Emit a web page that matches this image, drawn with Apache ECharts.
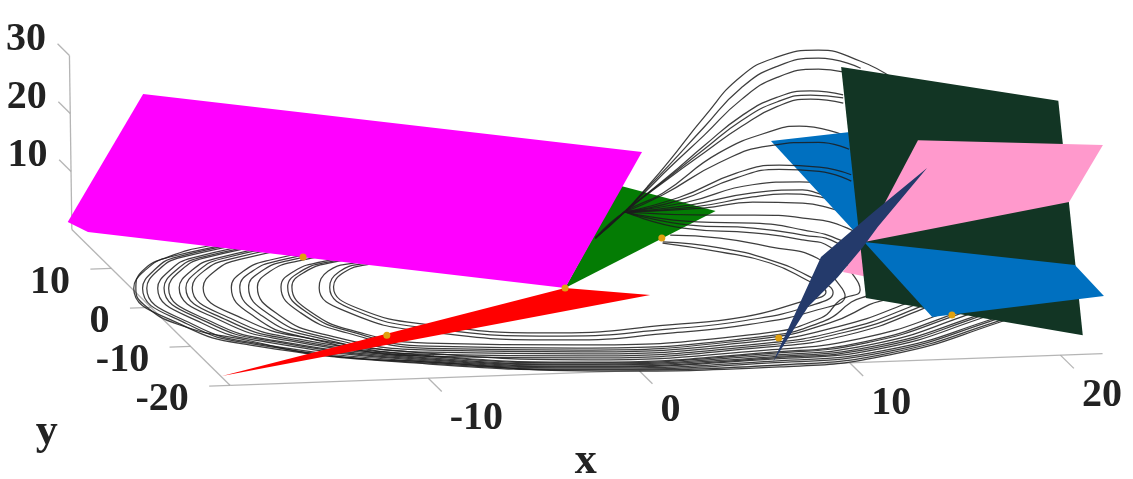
<!DOCTYPE html>
<html><head><meta charset="utf-8">
<style>html,body{margin:0;padding:0;background:#fff}#c{width:1133px;height:479px}</style>
<script src="https://cdn.jsdelivr.net/npm/echarts@6/dist/echarts.min.js"></script>
</head><body><div id="c"></div>
<script>
// ---- tick values (chart units) ----
const xTicks = [-10, 0, 10, 20];
const yTicks = [-20, -10, 0, 10];
const zTicks = [10, 20, 30];
const xRange = [-19.4, 22];
const yRange = [-20, 20];
const zRange = [0, 30];

// ---- equilibrium points [x,y,z] ----
const points = [[-10.1,11.1,0],[-9.9,-9,0],[0.45,1.06,0],[7.2,12.55,0],[7.9,-13.25,0],[16.9,-9.1,0]];

// ---- planes, corners [x,y,z] ----
const magentaPlane = [[-16.67,16,25.7],[3.99,0,23.7],[0.45,1.06,0],[-19.38,16,2.24],[-20.33,16,4.09]];
const greenPlane = [[5.2,12,9.6],[9.67,12,4.7],[0.45,1.06,0]];
const redPlane = [[-19.34,-17.6,0],[0.45,1.06,0],[4.02,-1.43,0]];
const darkPlane = [[14.42,5,33.6],[24.7,5,26.4],[22,-15,-0.2],[11.74,-15,7.6]];
const blueUpper = [[11.97,10,17.8],[14.82,0,26.1],[14.47,0,6.8]];
const blueLower = [[14.47,0,6.8],[22.6,-10,8.47],[23.03,-15,6.43],[14.87,-15,3.9]];
const pinkUpper = [[17.09,0,24],[25.86,0,22],[24.22,0,12.4],[14.47,0,6.8]];
const pinkLower = [[14.47,0,6.8],[14.63,0,0.72],[13.44,0,1.76]];
const navyBlade = [[6.55,-19,-0.07],[10.56,-10,11.45],[13.1,-10,18.9],[15.65,-10,26.1],[13.28,-10,16.3],[12.56,-10,12.9],[11.35,-10,7.9],[9.91,-10,2.9]];

// ---- trajectory: lower rings, [x,y] at z = 0 ----
const rings = [
 [[7,11.3],[9.21,8.6],[10.99,5.4],[11.89,0.8],[12.2,-2.3],[10.4,-4.7],[7.3,-7.7],[3.5,-9],[-1.9,-10],[-7.5,-6.8],[-10,-2],[-10.1,3.4],[-8.9,7],[-7.3,8.8],[-3,11.5]],
 [[7.07,11.6],[9.39,9.6],[11.14,6.1],[12.18,1.6],[12.5,-2.5],[10.8,-5.6],[7.2,-8.6],[3.4,-10],[-1.9,-10.8],[-7.7,-7.6],[-10.2,-2.6],[-10.3,3.3],[-9.1,7.2],[-7.5,9],[-3,11.8]],
 [[7.72,13.2],[9.86,12],[11.74,9.4],[13.37,6.2],[13.2,0.6],[12.9,-3.4],[11,-6.6],[7.2,-9.6],[3.3,-11],[-1.9,-11.8],[-8,-8.4],[-10.6,-3],[-10.8,3.3],[-9.6,7.4],[-8,9.2],[-3.5,12.2]],
 [[6.74,19.3],[8.64,14.8],[11.61,13],[13.57,10.8],[14.48,8.8],[14.24,1.7],[13.86,-2.1],[12.48,-4.4],[10.8,-8.6],[7.2,-12],[-1.8,-13.1],[-8.4,-11.3],[-11.1,-7.9],[-12.3,-2.5],[-12,3.8],[-10.7,7.4],[-9,9.5],[-2,14]],
 [[6.74,19.3],[9.09,15.5],[11.84,14.2],[13.8,12],[15,9.7],[14.9,2.4],[14.3,-2.3],[12.9,-5],[10.8,-9.4],[7.1,-12.8],[-1.8,-13.9],[-8.5,-12.1],[-11.3,-8],[-12.5,-2.6],[-12.2,3.8],[-10.9,7.5],[-9.2,9.6],[-2.2,14.2]],
 [[6.74,19.3],[9.56,16.2],[12.07,15.4],[14.03,13.3],[15.27,10.4],[15.84,4.7],[15.2,-3],[13.6,-5.8],[10.9,-10],[7.1,-13.2],[-1.8,-14.4],[-8.6,-12.6],[-11.6,-8.1],[-12.8,-2.7],[-12.5,3.9],[-11.2,7.6],[-9.5,9.7],[-2.5,14.4]],
 [[6.74,19.3],[10.48,17.8],[12.45,17.4],[14.59,16.2],[16.14,13.4],[16.63,7.6],[17.4,-2.2],[15,-6.3],[11.1,-11],[7,-13.8],[-1.8,-14.9],[-8.6,-13.1],[-12.7,-8.3],[-13.9,-3],[-13.6,4],[-12.3,7.8],[-10.6,10.1],[-3.6,15]],
 [[17.8,-2.6],[15.3,-6.8],[11.2,-11.8],[7,-14.4],[-1.8,-15.4],[-8.7,-13.6],[-13.1,-8.4],[-14.3,-3.1],[-14,4.1],[-12.7,7.9],[-11,10.3],[-4,15.3]],
 [[18,-2.9],[15.6,-7.1],[11.2,-12.4],[6.9,-14.9],[-1.8,-15.9],[-8.8,-14.1],[-13.5,-8.4],[-14.7,-3.2],[-14.4,4.2],[-13.1,8],[-11.4,10.4],[-4.4,15.5]],
 [[18.3,-3.3],[15.8,-7.4],[11.3,-13],[6.9,-15.4],[-1.8,-16.4],[-8.9,-14.6],[-13.9,-8.5],[-15.1,-3.3],[-14.8,4.2],[-13.5,8.1],[-11.8,10.6],[-4.8,15.7]],
 [[19.2,-4.5],[16.6,-8.6],[11.6,-14.1],[6.8,-16.1],[-1.8,-16.9],[-8.7,-13.9],[-13.6,-9.1],[-15.7,-3.7],[-16.1,4.4],[-14.8,8.4],[-13.1,11.1],[-6.1,16.2]],
 [[19.5,-4.9],[16.9,-9],[11.7,-14.9],[6.8,-16.7],[-1.8,-17.5],[-8.8,-14.5],[-14.1,-9.2],[-16.2,-3.8],[-16.6,4.5],[-15.3,8.5],[-13.6,11.2],[-6.6,16.4]],
 [[19.7,-5.1],[17,-9.3],[11.7,-15.2],[6.7,-17],[-1.8,-17.7],[-8.9,-14.7],[-14.4,-9.3],[-16.5,-3.9],[-16.9,4.5],[-15.6,8.5],[-13.9,11.4],[-6.9,16.5]],
 [[19.9,-5.5],[17.3,-9.6],[11.8,-15.7],[6.7,-17.4],[-1.8,-18],[-9,-15],[-14.7,-9.4],[-16.8,-4],[-17.2,4.6],[-15.9,8.6],[-14.2,11.5],[-7.2,16.7]],
 [[20.2,-5.9],[17.6,-10],[11.9,-16.1],[6.7,-17.8],[-1.8,-18.2],[-9.1,-15.2],[-15.2,-9.4],[-17.3,-4.1],[-17.7,4.6],[-16.4,8.7],[-14.7,11.7],[-7.7,16.8]],
 [[20.4,-6],[17.7,-10.2],[11.9,-16.5],[6.6,-18.1],[-1.8,-18.5],[-9.1,-15.5],[-15.4,-9.5],[-17.5,-4.2],[-17.9,4.7],[-16.6,8.8],[-14.9,11.8],[-7.9,16.9]],
 [[20.6,-6.3],[17.9,-10.4],[12,-16.8],[6.6,-18.4],[-1.8,-18.7],[-9.2,-15.7],[-15.7,-9.6],[-17.8,-4.3],[-18.2,4.7],[-16.9,8.8],[-15.2,11.9],[-8.2,17]],
 [[20.9,-6.8],[18.2,-10.9],[12.1,-17.3],[6.6,-18.9],[-1.8,-19],[-9.2,-16],[-16.2,-9.9],[-18.3,-4.4],[-18.7,4.8],[-17.4,9],[-15.7,12.1],[-8.7,17.1]],
 [[21.1,-7],[18.3,-11.1],[12.1,-17.7],[6.6,-19.3],[-1.8,-19.3],[-9.3,-16.3],[-16.4,-10],[-18.5,-4.5],[-18.9,4.8],[-17.6,9],[-15.9,12.2],[-8.9,17.2]],
 [[21.3,-7.3],[18.5,-11.3],[12.2,-18],[6.6,-19.9],[-1.8,-19.5],[-9.3,-16.5],[-16.6,-10.2],[-18.8,-4.6],[-19.3,4.9],[-18,9.1],[-16.2,12.3],[-9.1,17.3]],
 [[21.4,-7.4],[18.6,-11.5],[12.2,-18.4],[6.6,-20.4],[-1.8,-19.8],[-9.3,-16],[-13.8,-13.3],[-16.4,-9.2],[-18.9,-4.6],[-19.6,0.9],[-19.2,4.9],[-18.1,9.1],[-16.3,12.3],[-13.6,14.9],[-9.1,17.3]]
];

// ---- trajectory: rising arcs [x,y,z] ----
const arcs = [
 [[4.5,15,-1.3],[5.9,15,3],[7,15,7.2],[8.05,15,11.5],[9.75,15,18.9],[11.5,15,25.6],[13.2,15,28.7],[15.2,15,29.7],[17.2,15,27.5],[18.7,15,24.4]],
 [[4.5,15,-1.3],[5.9,15,3],[7,15,7],[8.05,15,10.8],[9.75,15,17.2],[11.5,15,23.6],[13.2,15,27.1],[15.2,15,28.3],[17.2,15,26.3]],
 [[4.5,15,-1.3],[5.9,15,3],[7,15,6.7],[8.05,15,10.3],[9.75,15,15.8],[11.5,15,21.6],[13.2,15,25.2],[15.2,15,26.4],[16.35,15,25.8]],
 [[4.5,15,-1.3],[5.9,15,3],[8.05,15,9],[9.75,15,14],[11.5,15,18.8],[13.2,15,21.8],[14.8,15,22.7],[16.35,15,21.8]],
 [[4.5,15,-1.3],[5.9,15,3],[8.05,15,8.8],[9.75,15,13.4],[11.5,15,18],[13.2,15,21],[14.8,15,22],[16.35,15,21.3]],
 [[4.5,15,-1.3],[5.9,15,3],[8.05,15,8.6],[9.75,15,12.8],[11.5,15,17],[13.2,15,20.2],[14.8,15,21.3],[16.35,15,20.4]],
 [[4.5,15,-1.3],[5.9,15,3],[7.72,15,6],[10.42,15,12.6],[13.1,15,16.2],[14.25,15,16.7],[16.35,15,14.9]],
 [[5.9,15,3],[8.86,15,4.3],[11.99,15,6.9],[14.22,15,7.1],[15.03,15,6.8],[16.6,15,4.5]],
 [[5.9,15,3],[9,15,3.8],[11.99,15,5.5],[14.36,15,5.7],[15.03,15,5.1],[16.6,15,2.8]],
 [[5.9,15,3],[9.14,15,3.4],[11.99,15,4.8],[13.6,15,5.1],[15.17,15,4.4],[16.6,15,2.3]],
 [[5.9,15,3],[9.62,15,3.2],[11.99,15,3.9],[14.36,15,3.4],[15.64,15,2.4],[16.6,15,1.1]]
];
// arcs that pass in front of the blue plane
const frontArcs = [
 [[5.9,15,3],[7.72,15,5.7],[10.42,15,10.9],[12.8,15,13.5],[15.17,15,13.8],[16.6,15,12.4]],
 [[5.9,15,3],[8.52,15,5.2],[11.23,15,9],[13.27,15,10.1],[15.17,15,9.5],[16.68,15,8]],
 [[5.9,15,3],[8.52,15,4.7],[11.23,15,8.2],[13.27,15,9.4],[15.17,15,8.8],[16.68,15,6.9]]
];

// ---- projection of the 3D box onto the plot plane ----
function project(p){
  const x=p[0], y=p[1], z=p[2]||0;
  return [639+21.07*x-3.96*(y+20)-0.08*z, 370.5-0.77*x-3.9*(y+20)-5.8*z];
}
const plane=(verts,color,z)=>({type:'custom',coordinateSystem:'cartesian2d',z,silent:true,clip:false,
  data:[0],renderItem:(params,api)=>({type:'polygon',
    shape:{points:verts.map(v=>api.coord(project(v)))},style:{fill:color}})});
const curve=(pts,z,w,col,smooth)=>({type:'line',data:pts.map(project),z,silent:true,clip:false,showSymbol:false,
  smooth:smooth===undefined?0.5:smooth,lineStyle:{width:w,color:col,opacity:0.85}});
const AX='#a8a8a8', LINE='#1c1c1c', LW=1.25;
const labelStyle={show:true,position:[0,0],color:'#222',fontFamily:'Liberation Serif',fontWeight:'bold',fontSize:40,verticalAlign:'middle'};
const textSeries=(items,align,off,size)=>({type:'scatter',z:20,silent:true,clip:false,symbolSize:1,itemStyle:{color:'rgba(0,0,0,0)',opacity:1},
  data:items.map(t=>({value:project(t.at),label:{...labelStyle,align,offset:off,formatter:t.text,fontSize:size||40}}))});

const series=[];
// axes
series.push(curve([[xRange[0],-20,0],[xRange[1],-20,0]],1,1.3,AX,false));
series.push(curve([[xRange[0],yRange[0],0],[xRange[0],yRange[1],0]],1,1.3,AX,false));
series.push(curve([[xRange[0],yRange[1],0],[xRange[0],yRange[1],zRange[1]]],1,1.3,AX,false));
xTicks.forEach(t=>series.push(curve([[t,-20,0],[t,-23.4,0]],1,1.3,AX,false)));
yTicks.forEach(t=>series.push(curve([[xRange[0],t,0],[xRange[0]-1,t,0]],1,1.3,AX,false)));
zTicks.forEach(t=>series.push(curve([[xRange[0],yRange[1],t],[xRange[0],yRange[1]+3,t]],1,1.3,AX,false)));
// trajectory + planes, back to front
series.push(plane(greenPlane,'#047c04',2));
rings.forEach(r=>series.push(curve(r,3,LW,LINE)));
arcs.forEach(a=>series.push(curve(a,3,LW,LINE)));
series.push(plane(blueUpper,'#0070c0',4));
series.push(plane(pinkLower,'#ff99cc',4));
frontArcs.forEach(a=>series.push(curve(a,5,LW,LINE)));
series.push(plane(darkPlane,'#123524',6));
series.push(plane(blueLower,'#0070c0',7));
series.push(plane(pinkUpper,'#ff99cc',7));
series.push(plane(navyBlade,'#243a6b',8));
series.push(plane(magentaPlane,'#ff00ff',8));
series.push(plane(redPlane,'#ff0000',8));
series.push({type:'scatter',z:9,silent:true,clip:false,symbolSize:7,itemStyle:{color:'#e0a010',opacity:1},data:points.map(project)});
// text
series.push(textSeries(zTicks.map(t=>({at:[xRange[0],yRange[1],t],text:String(t)})),'center',[-43,-15]));
series.push(textSeries(yTicks.map(t=>({at:[xRange[0],t,0],text:String(t)})),'right',[-41,15]));
series.push(textSeries(xTicks.map(t=>({at:[t,-20,0],text:String(t)})),'left',[22,41]));
series.push(textSeries([{at:[-2.5,-20,0],text:'x'}],'center',[0,90],44));
series.push(textSeries([{at:[xRange[0],-20,0],text:'y'}],'center',[-183,48],44));

const chart=echarts.init(document.getElementById('c'),null,{renderer:'canvas'});
chart.setOption({animation:false,backgroundColor:'#fff',
  grid:{left:0,right:0,top:0,bottom:0},
  xAxis:{type:'value',min:0,max:1133,show:false},
  yAxis:{type:'value',min:0,max:479,inverse:true,show:false},
  series});
</script></body></html>
